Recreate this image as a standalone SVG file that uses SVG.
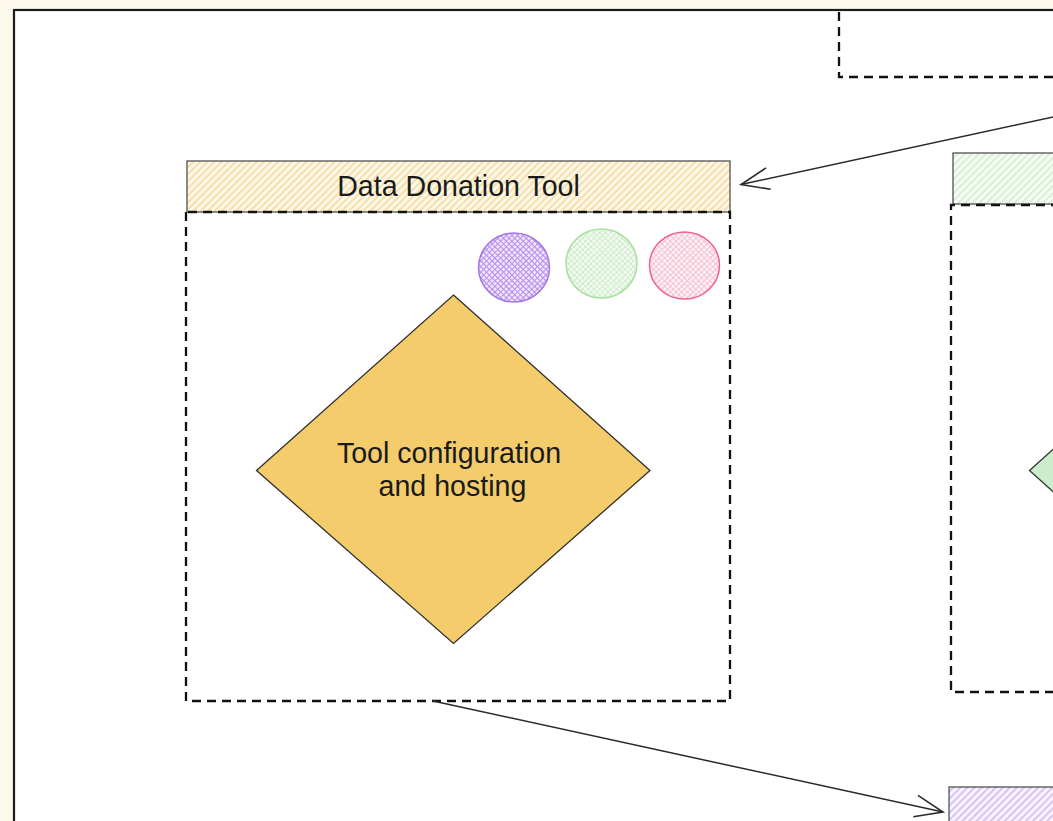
<svg xmlns="http://www.w3.org/2000/svg" width="1053" height="821" viewBox="0 0 1053 821">
<defs>
<style>
.dash{fill:none;stroke:#111;stroke-width:2.3;stroke-dasharray:9 6}
.hdr{stroke:#444;stroke-width:1.2}
.lbl{font-family:"Liberation Sans",Arial,sans-serif;font-size:28.6px;fill:#1a1a1a;text-anchor:middle}
.conn{fill:none;stroke:#2a2a2a;stroke-width:1.5}
</style>
<pattern id="hY" patternUnits="userSpaceOnUse" width="5" height="5" patternTransform="rotate(45)">
<rect width="5" height="5" fill="#fdf8ea"/><rect width="2" height="5" fill="#f6e0aa"/></pattern>
<pattern id="hG" patternUnits="userSpaceOnUse" width="5" height="5" patternTransform="rotate(45)">
<rect width="5" height="5" fill="#f6fcf5"/><rect width="2" height="5" fill="#d6f0d3"/></pattern>
<pattern id="hP" patternUnits="userSpaceOnUse" width="5" height="5" patternTransform="rotate(45)">
<rect width="5" height="5" fill="#f8f3fe"/><rect width="2" height="5" fill="#d9c3f6"/></pattern>
<pattern id="xP" patternUnits="userSpaceOnUse" width="4" height="4" patternTransform="rotate(45)">
<rect width="4" height="4" fill="#efe4fc"/><path d="M0 0H4M0 0V4" stroke="#b48aea" stroke-width="1.8"/></pattern>
<pattern id="xG" patternUnits="userSpaceOnUse" width="4" height="4" patternTransform="rotate(45)">
<rect width="4" height="4" fill="#f5fbf4"/><path d="M0 0H4M0 0V4" stroke="#c6eac0" stroke-width="1.7"/></pattern>
<pattern id="xK" patternUnits="userSpaceOnUse" width="4" height="4" patternTransform="rotate(45)">
<rect width="4" height="4" fill="#fdf1f5"/><path d="M0 0H4M0 0V4" stroke="#f4b9cd" stroke-width="1.7"/></pattern>
<marker id="open" markerUnits="userSpaceOnUse" markerWidth="40" markerHeight="30" viewBox="-30 -15 32 30" refX="0" refY="0" orient="auto">
<path d="M-28,-11 L0,0 L-28,11" fill="none" stroke="#2a2a2a" stroke-width="1.6"/></marker>
</defs>
<rect width="1053" height="821" fill="#fdf8ec"/>
<rect x="14" y="10" width="1100" height="900" fill="#ffffff" stroke="#1c1c1c" stroke-width="2.2"/>

<g id="top-box">
<path class="dash" d="M839,12 V77 H1060"/>
</g>

<g id="data-donation-tool">
<rect class="hdr" x="187" y="161" width="543" height="51" fill="url(#hY)"/>
<text class="lbl" x="458.5" y="196">Data Donation Tool</text>
<path class="dash" d="M186,212 V701 H730 V212 H186"/>
</g>

<g id="circle-purple"><ellipse cx="514" cy="267.5" rx="35.5" ry="34.5" fill="url(#xP)" stroke="#a478e0" stroke-width="1.5"/></g>
<g id="circle-green"><ellipse cx="601.5" cy="263.5" rx="35.5" ry="34.5" fill="url(#xG)" stroke="#a9df9f" stroke-width="1.5"/></g>
<g id="circle-pink"><ellipse cx="684.5" cy="265.5" rx="35" ry="33.5" fill="url(#xK)" stroke="#ee5f95" stroke-width="1.5"/></g>

<g id="tool-config">
<polygon points="453.5,295 650,470.5 453.5,643.5 256.5,470.5" fill="#f4cc6b" stroke="#2f2f2f" stroke-width="1.3"/>
<text class="lbl" x="449" y="463">Tool configuration</text>
<text class="lbl" x="452.5" y="496">and hosting</text>
</g>

<g id="green-container">
<rect class="hdr" x="953" y="153" width="120" height="51" fill="url(#hG)"/>
<path class="dash" d="M1060,205 H951 V692 H1060"/>
<polygon points="1029.5,470.5 1053.5,449 1080,470.5 1053.5,492" fill="#ccedca" stroke="#333" stroke-width="1.3"/>
</g>

<g id="purple-box">
<rect class="hdr" x="949" y="787" width="120" height="60" fill="url(#hP)"/>
</g>

<g id="connectors">
<path class="conn" d="M1060,115.5 L741,184.5" marker-end="url(#open)"/>
<path class="conn" d="M433,701 L943,812" marker-end="url(#open)"/>
</g>
</svg>
